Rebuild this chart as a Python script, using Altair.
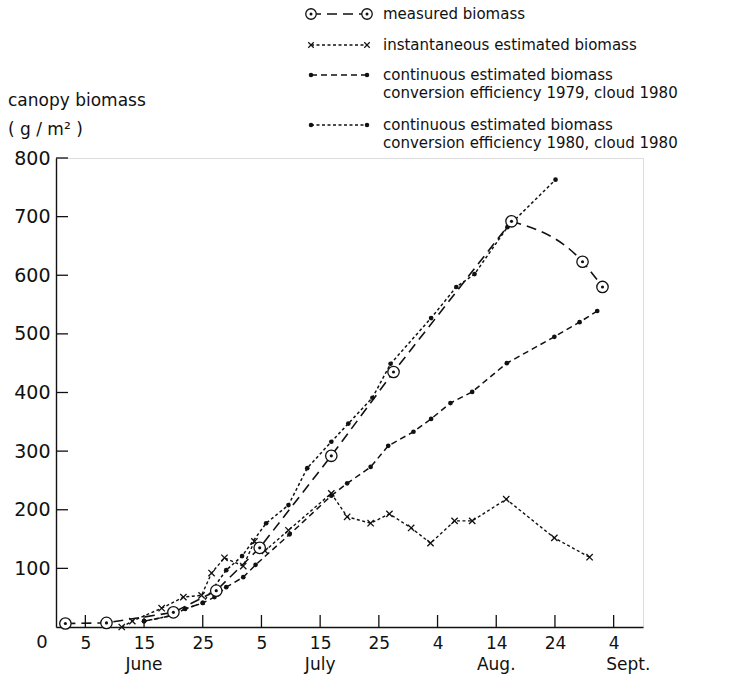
import altair as alt
import pandas as pd

# ---------------- data (day 0 = 31 May; June 5 = day 5, July 5 = day 35, Aug 4 = day 65, Sept 4 = day 95)
meas_day = [1.6, 8.6, 20.0, 27.3, 34.7, 46.9, 57.5, 77.6, 89.7, 93.1]
meas_val = [6, 7, 25, 62, 135, 292, 435, 692, 623, 580]

inst_day = [11.2, 13.0, 18.0, 21.7, 24.8, 26.5, 28.7, 31.9, 33.8, 35.6, 39.6, 46.9,
            49.6, 53.6, 56.8, 60.5, 63.8, 67.9, 70.9, 76.7, 84.9, 90.9]
inst_val = [0, 10, 32, 51, 54, 92, 118, 104, 146, 130, 165, 228,
            188, 177, 193, 169, 143, 181, 181, 218, 152, 119]

c79_day = [15.0, 20.0, 22.0, 25.0, 27.0, 29.0, 31.9, 34.0, 39.8, 46.9, 49.6, 53.6,
           56.6, 60.9, 63.9, 67.2, 70.9, 76.8, 84.9, 89.2, 92.2]
c79_val = [10, 20, 31, 41, 51, 68, 85, 106, 158, 224, 245, 273,
           309, 333, 355, 382, 401, 450, 495, 520, 539]

c80_day = [15.0, 20.0, 22.0, 25.0, 29.0, 31.7, 35.8, 39.6, 42.8, 46.9, 49.8, 53.9,
           57.0, 63.9, 68.2, 71.3, 76.9, 85.1]
c80_val = [10, 20, 31, 41, 97, 121, 177, 208, 271, 316, 347, 391,
           449, 527, 580, 602, 682, 763]

x_ticks = [5, 15, 25, 35, 45, 55, 65, 75, 85, 95]
x_tick_labels = ["5", "15", "25", "5", "15", "25", "4", "14", "24", "4"]
y_ticks = [100, 200, 300, 400, 500, 600, 700, 800]
month_names = ["June", "July", "Aug.", "Sept."]
month_pos = [15, 45, 75, 97.5]

legend_labels = [
    ["measured biomass"],
    ["instantaneous estimated biomass"],
    ["continuous estimated biomass", "conversion efficiency 1979, cloud 1980"],
    ["continuous estimated biomass", "conversion efficiency 1980, cloud 1980"],
]
y_title = ["canopy biomass", "( g / m² )"]

# ---------------- styling
F = "DejaVu Sans"
INK = "#111111"
W, H = 587, 469
D_MEAS = [10, 6]
D_INST = [3, 2.5]
D_C79 = [6, 4]
D_C80 = [3, 2.5]

xs = alt.Scale(domain=[0, 100], nice=False, zero=False)
ys = alt.Scale(domain=[0, 800], nice=False)
label_expr = "[" + ",".join("'%s'" % s for s in x_tick_labels) + "][round((datum.value-5)/10)]"
x_enc = alt.X("day:Q", scale=xs, axis=alt.Axis(values=x_ticks, labelExpr=label_expr, ticks=False,
                                                grid=False, title=None, labelPadding=8,
                                                labelFontSize=17, labelFont=F, labelColor=INK,
                                                domainColor=INK, domainWidth=1.4))
y_enc = alt.Y("val:Q", scale=ys, axis=alt.Axis(values=y_ticks, ticks=False, grid=False, title=None,
                                               labelPadding=6, labelFontSize=19, labelFont=F,
                                               labelColor=INK, domainColor=INK, domainWidth=1.4))


def df(d, v):
    return pd.DataFrame({"day": d, "val": v})


meas = df(meas_day, meas_val)
peak = meas["val"].idxmax()
meas_rise = meas.iloc[: peak + 1]
meas_fall = meas.iloc[peak:]
inst = df(inst_day, inst_val)
c79 = df(c79_day, c79_val)
c80 = df(c80_day, c80_val)

layers = []
# lines
layers.append(alt.Chart(c79).mark_line(color=INK, strokeWidth=1.5, strokeDash=D_C79).encode(x=x_enc, y=y_enc))
layers.append(alt.Chart(c80).mark_line(color=INK, strokeWidth=1.5, strokeDash=D_C80).encode(x=x_enc, y=y_enc))
layers.append(alt.Chart(inst).mark_line(color=INK, strokeWidth=1.4, strokeDash=D_INST).encode(x=x_enc, y=y_enc))
layers.append(alt.Chart(meas_rise).mark_line(color=INK, strokeWidth=1.6, strokeDash=D_MEAS).encode(x=x_enc, y=y_enc))
layers.append(alt.Chart(meas_fall).mark_line(color=INK, strokeWidth=1.6, strokeDash=D_MEAS,
                                             interpolate="monotone").encode(x=x_enc, y=y_enc))
# markers
layers.append(alt.Chart(c79).mark_circle(color=INK, size=22, opacity=1).encode(x=x_enc, y=y_enc))
layers.append(alt.Chart(c80).mark_circle(color=INK, size=22, opacity=1).encode(x=x_enc, y=y_enc))
XSHAPE = "M-1,-1L1,1M-1,1L1,-1"
layers.append(alt.Chart(inst).mark_point(shape=XSHAPE, size=40, color=INK, strokeWidth=1.3,
                                         opacity=1).encode(x=x_enc, y=y_enc))
layers.append(alt.Chart(meas).mark_circle(size=130, color="white", stroke=INK, strokeWidth=1.3,
                                          opacity=1).encode(x=x_enc, y=y_enc))
layers.append(alt.Chart(meas).mark_circle(size=10, color=INK, opacity=1).encode(x=x_enc, y=y_enc))

# inward ticks
layers.append(alt.Chart(pd.DataFrame({"day": x_ticks})).mark_rule(color=INK, strokeWidth=1.3).encode(
    x=alt.X("day:Q", scale=xs), y=alt.value(H), y2=alt.value(H - 12)))
layers.append(alt.Chart(pd.DataFrame({"val": y_ticks})).mark_rule(color=INK, strokeWidth=1.3).encode(
    y=alt.Y("val:Q", scale=ys), x=alt.value(0), x2=alt.value(12)))

# month labels
layers.append(alt.Chart(pd.DataFrame({"day": month_pos, "m": month_names})).mark_text(
    font=F, fontSize=17, color=INK, baseline="middle").encode(
    x=alt.X("day:Q", scale=xs), y=alt.value(H + 38), text="m:N"))

one = pd.DataFrame({"a": [0]})


def txt(s, px, py, size=15, align="left"):
    return alt.Chart(one).mark_text(font=F, fontSize=size, color=INK, align=align,
                                    baseline="middle").encode(
        x=alt.value(px), y=alt.value(py), text=alt.value(s))


# origin label and y title
layers.append(txt("0", -14, H + 16, size=18, align="center"))
layers.append(txt(y_title[0], -48, -57, size=17))
layers.append(txt(y_title[1], -48, -28, size=17))

# legend
LX0, LX1, TX = 255, 311, 327
rows_y = [-144, -113, -83, -33]
dashes = [D_MEAS, D_INST, D_C79, D_C80]
for i, (ry, dsh) in enumerate(zip(rows_y, dashes)):
    layers.append(alt.Chart(one).mark_rule(color=INK, strokeWidth=1.4, strokeDash=dsh).encode(
        x=alt.value(LX0), x2=alt.value(LX1), y=alt.value(ry)))
    for px in (LX0, LX1):
        if i == 0:
            layers.append(alt.Chart(one).mark_circle(size=110, color="white", stroke=INK,
                                                     strokeWidth=1.3, opacity=1).encode(
                x=alt.value(px), y=alt.value(ry)))
            layers.append(alt.Chart(one).mark_circle(size=9, color=INK, opacity=1).encode(
                x=alt.value(px), y=alt.value(ry)))
        elif i == 1:
            layers.append(alt.Chart(one).mark_point(shape=XSHAPE, size=30, color=INK,
                                                    strokeWidth=1.2, opacity=1).encode(
                x=alt.value(px), y=alt.value(ry)))
        else:
            layers.append(alt.Chart(one).mark_circle(size=20, color=INK, opacity=1).encode(
                x=alt.value(px), y=alt.value(ry)))
    for j, line in enumerate(legend_labels[i]):
        layers.append(txt(line, TX, ry + 18 * j, size=15))

chart = alt.layer(*layers).properties(
    width=W, height=H,
    autosize=alt.AutoSizeParams(type="none"),
    padding={"left": 56, "top": 158, "right": 87, "bottom": 51},
).configure_view(stroke=None).configure(background="white")

chart.save("out.html", embed_options={"renderer": "svg", "actions": False})
